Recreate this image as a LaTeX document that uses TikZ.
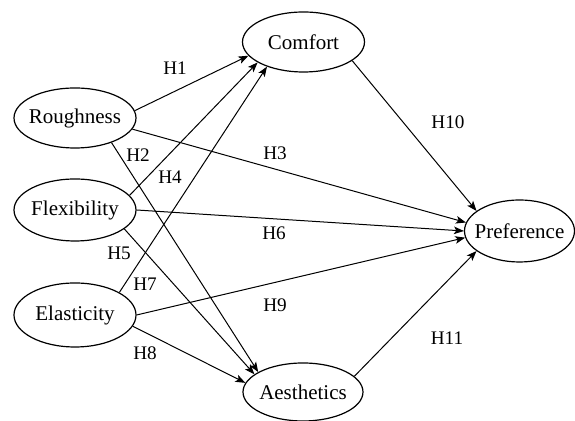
\documentclass[tikz,border=0pt]{standalone}
\usepackage{fontspec}
\setmainfont{Liberation Serif}
\usetikzlibrary{shapes.geometric,arrows.meta}
\newcommand\zc[1]{\makebox[0pt]{#1}}
\begin{document}
\begin{tikzpicture}[x=0.5pt,y=-0.5pt,
  ell/.style={draw,ellipse,inner sep=0pt,line width=0.6pt,minimum width=61pt,minimum height=30pt,font=\fontsize{10.5pt}{12pt}\selectfont},
  hlab/.style={inner sep=0pt,font=\fontsize{9.6pt}{11pt}\selectfont},
  arr/.style={line width=0.5pt,-{Stealth[length=5pt,width=3.8pt,inset=1.2pt]}}]
\useasboundingbox (0,0) rectangle (575,421);
% nodes
\node[ell] (R) at (75,118) {\zc{Roughness}};
\node[ell,minimum height=31pt] (F) at (75,210) {\zc{Flexibility}};
\node[ell,minimum height=32pt] (E) at (75,315) {\zc{Elasticity}};
\node[ell] (C) at (303.5,42) {\zc{Comfort}};
\node[ell,minimum width=60pt,minimum height=29pt] (A) at (303,392) {\zc{Aesthetics}};
\node[ell,minimum width=55pt,minimum height=31pt] (P) at (519.5,231) {\zc{Preference}};
% connectors
\draw[arr] (R.7.5) -- (C.194.4);
\draw[arr] (F.15.3) -- (C.204);
\draw[arr] (E.27) -- (C.214.7);
\draw[arr] (R.-34) -- (A.156.5);
\draw[arr] (F.-21) -- (A.160.3);
\draw[arr] (E.-11.7) -- (A.171.5);
\draw[arr] (R.-11.3) -- (P.171);
\draw[arr] (F.0) -- (P.180);
\draw[arr] (E.0) -- (P.187);
\draw[arr] (C.-21) -- (P.155);
\draw[arr] (A.17) -- (P.205);
% labels
\node[hlab] (h1) at (175,68) {H1};
\node[hlab] (h2) at (138,155) {H2};
\node[hlab] (h3) at (275,153) {H3};
\node[hlab] (h4) at (170,177) {H4};
\node[hlab] (h5) at (119,253) {H5};
\node[hlab] (h6) at (274,233) {H6};
\node[hlab] (h7) at (145,284) {H7};
\node[hlab] (h8) at (145,353) {H8};
\node[hlab] (h9) at (275,305) {H9};
\node[hlab] (h10) at (448,122) {H10};
\node[hlab] (h11) at (447,338) {H11};
\end{tikzpicture}
\end{document}
